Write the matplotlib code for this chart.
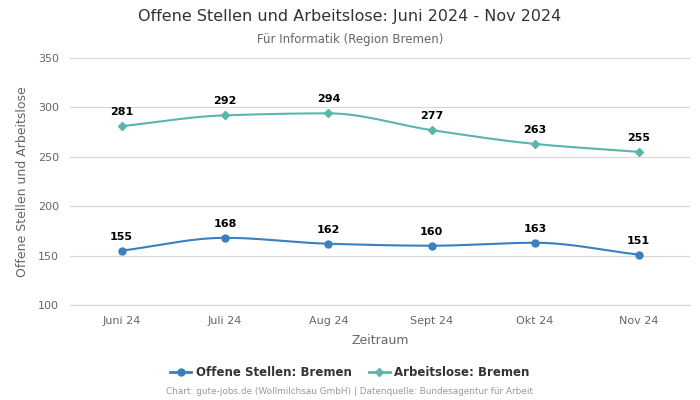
import numpy as np
import matplotlib
matplotlib.use("Agg")
import matplotlib.pyplot as plt

categories = ["Juni 24", "Juli 24", "Aug 24", "Sept 24", "Okt 24", "Nov 24"]
offene = [155, 168, 162, 160, 163, 151]
arbeitslose = [281, 292, 294, 277, 263, 255]
yticks = [100, 150, 200, 250, 300, 350]

blue = "#3a7fbf"
teal = "#5ab5ad"


def pchip(x, y, n=40):
    x = np.asarray(x, float)
    y = np.asarray(y, float)
    h = np.diff(x)
    d = np.diff(y) / h
    m = np.zeros_like(y)
    m[0], m[-1] = d[0], d[-1]
    for k in range(1, len(y) - 1):
        if d[k - 1] * d[k] <= 0:
            m[k] = 0
        else:
            w1 = 2 * h[k] + h[k - 1]
            w2 = h[k] + 2 * h[k - 1]
            m[k] = (w1 + w2) / (w1 / d[k - 1] + w2 / d[k])
    xs, ys = [], []
    for k in range(len(x) - 1):
        t = np.linspace(0, 1, n, endpoint=(k == len(x) - 2))
        h00 = 2 * t**3 - 3 * t**2 + 1
        h10 = t**3 - 2 * t**2 + t
        h01 = -2 * t**3 + 3 * t**2
        h11 = t**3 - t**2
        xs.append(x[k] + t * h[k])
        ys.append(h00 * y[k] + h10 * h[k] * m[k] + h01 * y[k + 1] + h11 * h[k] * m[k + 1])
    return np.concatenate(xs), np.concatenate(ys)


fig = plt.figure(figsize=(7, 4), dpi=100)
ax = fig.add_axes([0.1, 0.2375, 0.886, 0.6175])

x = np.arange(len(categories))
for vals, col, mk, ms, lab in [(offene, blue, "o", 5, "Offene Stellen: Bremen"),
                               (arbeitslose, teal, "D", 3.8, "Arbeitslose: Bremen")]:
    sx, sy = pchip(x, vals)
    ax.plot(sx, sy, color=col, lw=1.5, zorder=3)
    ax.plot(x, vals, linestyle="none", marker=mk, color=col, ms=ms, zorder=4)
    ax.plot([], [], color=col, marker=mk, ms=ms, lw=2, label=lab)
    for xi, v in zip(x, vals):
        ax.annotate(str(v), (xi, v), xytext=(0, 6.5), textcoords="offset points",
                    ha="center", va="bottom", fontsize=8, fontweight="bold", color="#000000")

ax.set_xlim(-0.5, len(categories) - 0.5)
ax.set_ylim(100, 350)
ax.set_yticks(yticks)
ax.set_xticks(x)
ax.set_xticklabels(categories)
ax.tick_params(axis="both", length=0, labelsize=8, colors="#666666", pad=8)
ax.grid(axis="y", color="#d6d6d6", lw=0.8)
ax.set_axisbelow(True)
for s in ["top", "right", "left"]:
    ax.spines[s].set_visible(False)
ax.spines["bottom"].set_color("#d6d6d6")
ax.set_xlabel("Zeitraum", fontsize=9, color="#666666", labelpad=6)
ax.set_ylabel("Offene Stellen und Arbeitslose", fontsize=9, color="#666666", labelpad=6)

fig.text(0.5, 0.958, "Offene Stellen und Arbeitslose: Juni 2024 - Nov 2024", ha="center", va="center",
         fontsize=11.5, color="#333333")
fig.text(0.5, 0.902, "Für Informatik (Region Bremen)", ha="center", va="center",
         fontsize=8.5, color="#666666")

leg = fig.legend(loc="center", bbox_to_anchor=(0.5, 0.068), ncol=2, frameon=False,
                 prop={"size": 8.5, "weight": "bold"}, handlelength=1.8, columnspacing=1.4,
                 handletextpad=0.4)
for t in leg.get_texts():
    t.set_color("#333333")

fig.text(0.5, 0.02, "Chart: gute-jobs.de (Wollmilchsau GmbH) | Datenquelle: Bundesagentur für Arbeit",
         ha="center", va="center", fontsize=6.4, color="#999999")

fig.savefig("out.png", dpi=100)
